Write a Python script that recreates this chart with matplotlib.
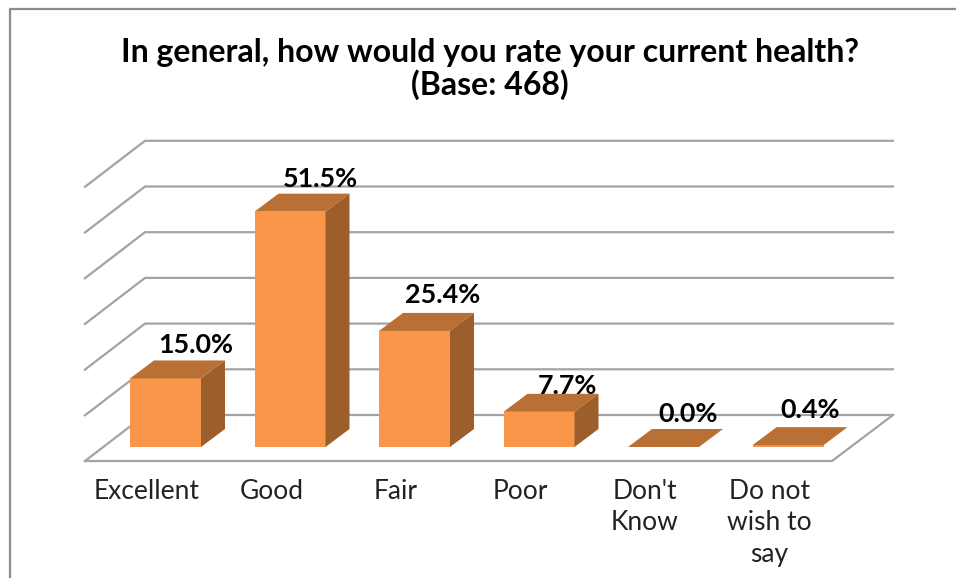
import matplotlib
matplotlib.use('Agg')
import matplotlib.pyplot as plt
from matplotlib.lines import Line2D

categories = ['Excellent', 'Good', 'Fair', 'Poor', "Don't\nKnow", 'Do not\nwish to\nsay']
values = [15.0, 51.5, 25.4, 7.7, 0.0, 0.4]
grid_ticks = [0, 10, 20, 30, 40, 50, 60]
title = 'In general, how would you rate your current health?\n(Base: 468)'

# Layout of the picture in pixels
W, H = 956, 578
X0, X_STEP = 165.5, 124.5      # centre of first bar, bar spacing
Y0, Y_SCALE = 447.0, 4.57      # bar baseline, pixels per percent
BAR_W = 71 / X_STEP
DX, DY = 24 / X_STEP, 18 / Y_SCALE   # oblique depth of a bar

front = '#F9964A'
top = '#B97034'
side = '#9C5F2C'
grid = '#A3A3A3'
font = 'Lato'


def px_x(p):
    return (p - X0) / X_STEP


def px_y(p):
    return (Y0 - p) / Y_SCALE


fig = plt.figure(figsize=(W / 100, H / 100), dpi=100)
ax = fig.add_axes([0, 0, 1, 1])
ax.set_xlim(px_x(0), px_x(W))
ax.set_ylim(px_y(H), px_y(0))
ax.axis('off')

# chart frame, cropped on the right and bottom
fig.add_artist(Line2D([10 / W, 10 / W, 1], [0, 1 - 9 / H, 1 - 9 / H], color='#8C8C8C', lw=1.6))

# back wall gridlines with their oblique side wall parts
for t in grid_ticks:
    y_back = px_y(415) + t
    y_front = px_y(461) + t
    ax.plot([px_x(85), px_x(145), px_x(893)], [y_front, y_back, y_back],
            color=grid, lw=1.6, zorder=1, solid_joinstyle='miter')

# floor outline
ax.plot([px_x(85), px_x(832), px_x(893)], [px_y(461), px_y(461), px_y(415)],
        color=grid, lw=1.6, zorder=1, solid_joinstyle='miter')

# bars: front face from bar(), top and side faces follow the value
xs = list(range(len(values)))
ax.bar(xs, values, width=BAR_W, color=front, zorder=3)
for x, v in zip(xs, values):
    l, r = x - BAR_W / 2, x + BAR_W / 2
    ax.fill([l, r, r + DX, l + DX], [v, v, v + DY, v + DY], color=top, lw=0, zorder=3)
    if v > 0.5:
        ax.fill([r, r + DX, r + DX, r], [0, DY, v + DY, v], color=side, lw=0, zorder=3)

# value labels sit above the top face, offsets in pixels
label_dx = [30, 30, 28.5, 28, 25, 22]
label_dy = [33, 33, 36, 26, 33, 35]
for x, v, ox, oy in zip(xs, values, label_dx, label_dy):
    ax.text(x + ox / X_STEP, v + oy / Y_SCALE, f'{v:.1f}%', ha='center', va='center',
            fontsize=19.4, fontweight='bold', family=font, color='black', zorder=5)

# category labels, top aligned under the floor
for x, c in zip(xs, categories):
    ax.text(x - 18.5 / X_STEP, px_y(479), c, ha='center', va='top', fontsize=19,
            family=font, color='#222222', linespacing=1.32, zorder=5)

ax.text(px_x(490), px_y(69), title, ha='center', va='center', fontsize=23,
        fontweight='bold', family=font, color='black', linespacing=1.11, zorder=5)

fig.savefig('out.png', dpi=100)
